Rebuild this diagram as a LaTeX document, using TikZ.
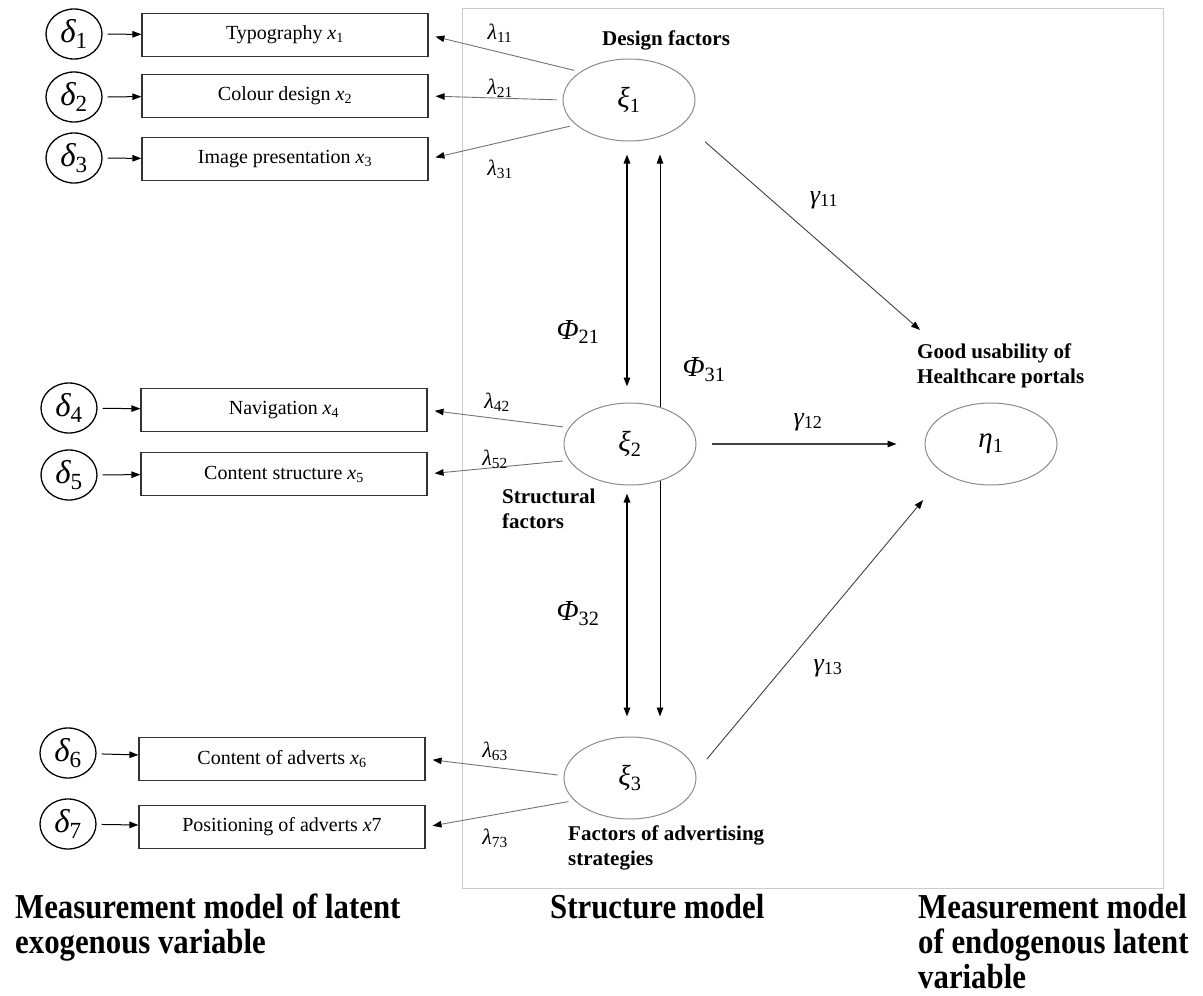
\documentclass[tikz,border=0pt]{standalone}
\usepackage{fontspec}
\setmainfont{Liberation Serif}
\newfontfamily\capfont{Liberation Serif Bold}[FakeStretch=0.88]
\usetikzlibrary{arrows.meta,shapes.geometric,backgrounds}

% Greek symbol with an upright subscript
\newcommand\gsym[2]{{\itshape #1}\textsubscript{\upshape #2}}

\tikzset{
  tipA/.tip={Triangle[length=9pt,width=6.5pt,color=black]},
  panel/.style={draw=black!20, line width=1pt},
  errnode/.style={draw, line width=1.3pt, ellipse, minimum width=56pt,
    minimum height=50pt, inner sep=0pt, font=\fontsize{33}{33}\selectfont},
  obsbox/.style={draw=black!80, line width=1.2pt, rectangle, minimum width=286pt,
    minimum height=43pt, inner sep=0pt, font=\fontsize{20}{24}\selectfont},
  latent/.style={draw=black!45, line width=1pt, ellipse, fill=white,
    minimum width=132pt, minimum height=82pt, inner sep=0pt,
    font=\fontsize{29}{29}\selectfont},
  factor/.style={inner sep=0pt, align=left, font=\fontsize{21}{25}\selectfont\bfseries},
  caption/.style={inner sep=0pt, align=left, font=\fontsize{35}{35}\capfont},
  lam/.style={inner sep=0pt, font=\fontsize{22}{22}\selectfont},
  coef/.style={inner sep=0pt, font=\fontsize{26}{26}\selectfont},
  phil/.style={inner sep=0pt, font=\fontsize{29}{29}\selectfont},
  small arrow/.style={-tipA, line width=1pt, shorten <=5pt},
  load/.style={-tipA, draw=black!55, line width=0.9pt, shorten <=6pt, shorten >=7pt},
  cov/.style={tipA-tipA, line width=1.4pt},
  covthin/.style={tipA-tipA, line width=0.9pt},
  path/.style={-tipA, draw=black!75, line width=0.9pt},
}

\begin{document}
\begin{tikzpicture}[x=1pt, y=-1pt]
\useasboundingbox (0,0) rectangle (1203,996);

% frame of the structure model
\draw[panel] (462,8) rectangle (1163,888);

% error terms
\node[errnode] (d1) at (74,34)  {\gsym{δ}{1}};
\node[errnode] (d2) at (74,97)  {\gsym{δ}{2}};
\node[errnode] (d3) at (74,158) {\gsym{δ}{3}};
\node[errnode] (d4) at (69,408) {\gsym{δ}{4}};
\node[errnode] (d5) at (69,475) {\gsym{δ}{5}};
\node[errnode] (d6) at (68,753) {\gsym{δ}{6}};
\node[errnode] (d7) at (68,824) {\gsym{δ}{7}};

% observed indicators
\node[obsbox] (b1) at (285,35)  {Typography \textit{x}\textsubscript{1}};
\node[obsbox] (b2) at (285,96)  {Colour design \textit{x}\textsubscript{2}};
\node[obsbox] (b3) at (285,159) {Image presentation \textit{x}\textsubscript{3}};
\node[obsbox] (b4) at (284,410) {Navigation \textit{x}\textsubscript{4}};
\node[obsbox] (b5) at (284,474) {Content structure \textit{x}\textsubscript{5}};
\node[obsbox] (b6) at (282,759) {Content of adverts \textit{x}\textsubscript{6}};
\node[obsbox] (b7) at (282,827) {Positioning of adverts \textit{x}7};

% latent variables
\node[latent] (xi1) at (629,100) {\gsym{ξ}{1}};
\node[latent] (xi2) at (630,444) {\gsym{ξ}{2}};
\node[latent] (xi3) at (630,778) {\gsym{ξ}{3}};
\node[latent] (eta) at (991,444) {\gsym{η}{1}};

% factor names
\node[factor, anchor=west] (f1) at (602,40) {Design factors};
\node[factor, anchor=north west] (f2) at (502,489) {Structural\\factors};
\node[factor, anchor=north west] (f3) at (568,826) {Factors of advertising\\strategies};
\node[factor, anchor=north west] (usab) at (917,344) {Good usability of\\Healthcare portals};

% error arrows
\foreach \i in {1,...,7} \draw[small arrow] (d\i) -- (b\i);

% loadings
\draw[load] (xi1.150) -- (b1.east);
\draw[load] (xi1.180) -- (b2.east);
\draw[load] (xi1.205) -- (b3.east);
\draw[load] (xi2.165) -- (b4.east);
\draw[load] (xi2.195) -- (b5.east);
\draw[load] (xi3.178) -- (b6.east);
\draw[load] (xi3.202) -- (b7.east);

\node[lam] (l11) at (500,33)  {\gsym{λ}{11}};
\node[lam] (l21) at (500,88)  {\gsym{λ}{21}};
\node[lam] (l31) at (500,169) {\gsym{λ}{31}};
\node[lam] (l42) at (497,402) {\gsym{λ}{42}};
\node[lam] (l52) at (495,459) {\gsym{λ}{52}};
\node[lam] (l63) at (495,751) {\gsym{λ}{63}};
\node[lam] (l73) at (495,838) {\gsym{λ}{73}};

% covariances between exogenous factors
\draw[cov, shorten <=13pt, shorten >=16pt] ([xshift=-2pt]xi1.south) -- ([xshift=-3pt]xi2.north);
\draw[cov, shorten <=8pt, shorten >=20pt] ([xshift=-3pt]xi2.south) -- ([xshift=-3pt]xi3.north);
\begin{scope}[on background layer]
  \draw[covthin, shorten <=13pt, shorten >=20pt] ([xshift=31pt]xi1.south) -- ([xshift=30pt]xi3.north);
\end{scope}
\node[phil] (p21) at (578,332) {\gsym{Φ}{21}};
\node[phil] (p31) at (704,370) {\gsym{Φ}{31}};
\node[phil] (p32) at (578,614) {\gsym{Φ}{32}};

% structural paths
\coordinate (g11tip) at (920,330);
\draw[path, shorten <=28pt] (xi1.-23) -- (g11tip);
\draw[path, line width=1.2pt, shorten <=15pt, shorten >=28pt] (xi2.east) -- (eta.west);
\draw[path, shorten <=17pt, shorten >=34pt] (xi3.5) -- (eta.213);
\node[coef] (g11) at (824,200) {\gsym{γ}{11}};
\node[coef] (g12) at (808,422) {\gsym{γ}{12}};
\node[coef] (g13) at (828,668) {\gsym{γ}{13}};

% captions
\node[caption, anchor=north west] (c1) at (15,894) {Measurement model of latent\\exogenous variable};
\node[caption, anchor=north west] (c2) at (550,894) {Structure model};
\node[caption, anchor=north west] (c3) at (918,894) {Measurement model\\of endogenous latent\\variable};
\end{tikzpicture}
\end{document}
